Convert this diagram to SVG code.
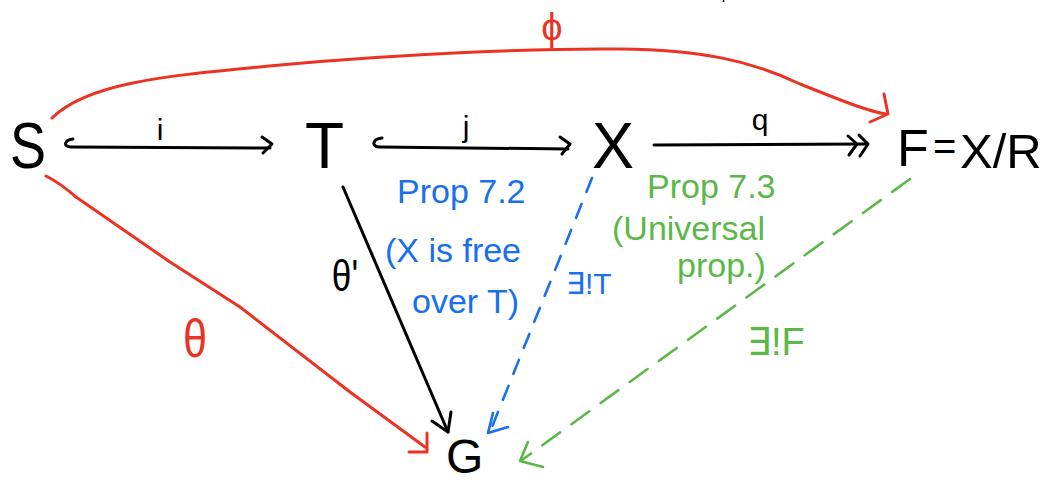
<svg xmlns="http://www.w3.org/2000/svg" width="1043" height="482" viewBox="0 0 1043 482">
<style>
text{font-family:"Liberation Sans","DejaVu Sans",sans-serif;}
.node{font-size:64px;fill:#000;}
.lbl{font-size:30px;fill:#000;}
.blk{fill:none;stroke:#000;stroke-width:3;stroke-linecap:round;stroke-linejoin:round;}
.red{fill:none;stroke:#ea3323;stroke-width:3;stroke-linecap:round;stroke-linejoin:round;}
.blu{fill:none;stroke:#1870ee;stroke-width:2.6;stroke-linecap:round;stroke-linejoin:round;}
.grn{fill:none;stroke:#5bb848;stroke-width:2.6;stroke-linecap:round;stroke-linejoin:round;}
.tblu{fill:#1870ee;font-size:34px;}
.tgrn{fill:#5bb848;font-size:34px;}
</style>
<rect width="1043" height="482" fill="#fff"/>
<g id="connectors">
  <path class="blk" d="M73,139 C64,140 63,147 71,147 L270,148"/>
  <path class="blk" d="M262,137 L272,144 L263,153"/>
  <path class="blk" d="M382,138 C372,139 371,147 380,147 L568,149"/>
  <path class="blk" d="M560,137 L570,144 L562,154"/>
  <path class="blk" d="M654,145 L866,144"/>
  <path class="blk" d="M848,136 L857,144 L849,155 M859,135 L868,144 L860,156"/>
  <path class="red" d="M52,118 C90,80 180,75 280,65 C400,54 540,48 620,49 C700,50 750,60 800,84 C840,100 870,112 886,114"/>
  <path class="red" d="M884,94 L888,114 L870,122"/>
  <path class="red" d="M46,176 C60,183 68,190 76,197 L170,262 L240,307 L350,392 L425,447"/>
  <path class="red" d="M427,433 L427,452 L409,452"/>
  <path class="blk" d="M343,187 L448,432"/>
  <path class="blk" d="M432,421 L448,432 L451,412"/>
  <path class="blu" d="M592,178 L490,432" stroke-dasharray="15 13"/>
  <path class="blu" d="M493,413 L488,433 L508,427"/>
  <path class="grn" d="M910,179 L522,460" stroke-dasharray="22 14"/>
  <path class="grn" d="M528,442 L520,461 L543,467"/>
  <path d="M723.5,0 L723.5,2" stroke="#000" stroke-width="1.5"/>
</g>
<g id="node-S"><text class="node" x="10" y="168" textLength="36" lengthAdjust="spacingAndGlyphs">S</text></g>
<g id="node-T"><text class="node" x="305" y="168">T</text></g>
<g id="node-X"><text class="node" x="592" y="168" textLength="42" lengthAdjust="spacingAndGlyphs">X</text></g>
<g id="node-F">
  <text class="node" x="897" y="166" style="font-size:52px">F</text>
  <text class="node" x="933" y="160" style="font-size:40px">=</text>
  <text class="node" x="960" y="168" style="font-size:49px">X/R</text>
</g>
<g id="node-G"><text class="node" x="446" y="473" style="font-size:48px">G</text></g>
<g id="labels">
  <text class="lbl" x="160" y="140" text-anchor="middle">i</text>
  <text class="lbl" x="466" y="137" text-anchor="middle">j</text>
  <text class="lbl" x="760" y="130" text-anchor="middle">q</text>
  <text x="552" y="40" text-anchor="middle" font-size="38" fill="#ea3323">ϕ</text>
  <text transform="translate(195,357) scale(0.8,1)" text-anchor="middle" font-size="54" fill="#ea3323">θ</text>
  <text transform="translate(345,291) scale(0.8,1)" text-anchor="middle" font-size="44" fill="#000">θ'</text>
  <text class="tblu" x="397" y="203">Prop 7.2</text>
  <text class="tblu" x="385" y="262">(X is free</text>
  <text class="tblu" x="412" y="313">over T)</text>
  <text class="tblu" x="566" y="294" style="font-size:30px">∃!T</text>
  <text class="tgrn" x="647" y="198">Prop 7.3</text>
  <text class="tgrn" x="612" y="240">(Universal</text>
  <text class="tgrn" x="677" y="277">prop.)</text>
  <text class="tgrn" x="747" y="355" style="font-size:38px">∃!F</text>
</g>
</svg>
